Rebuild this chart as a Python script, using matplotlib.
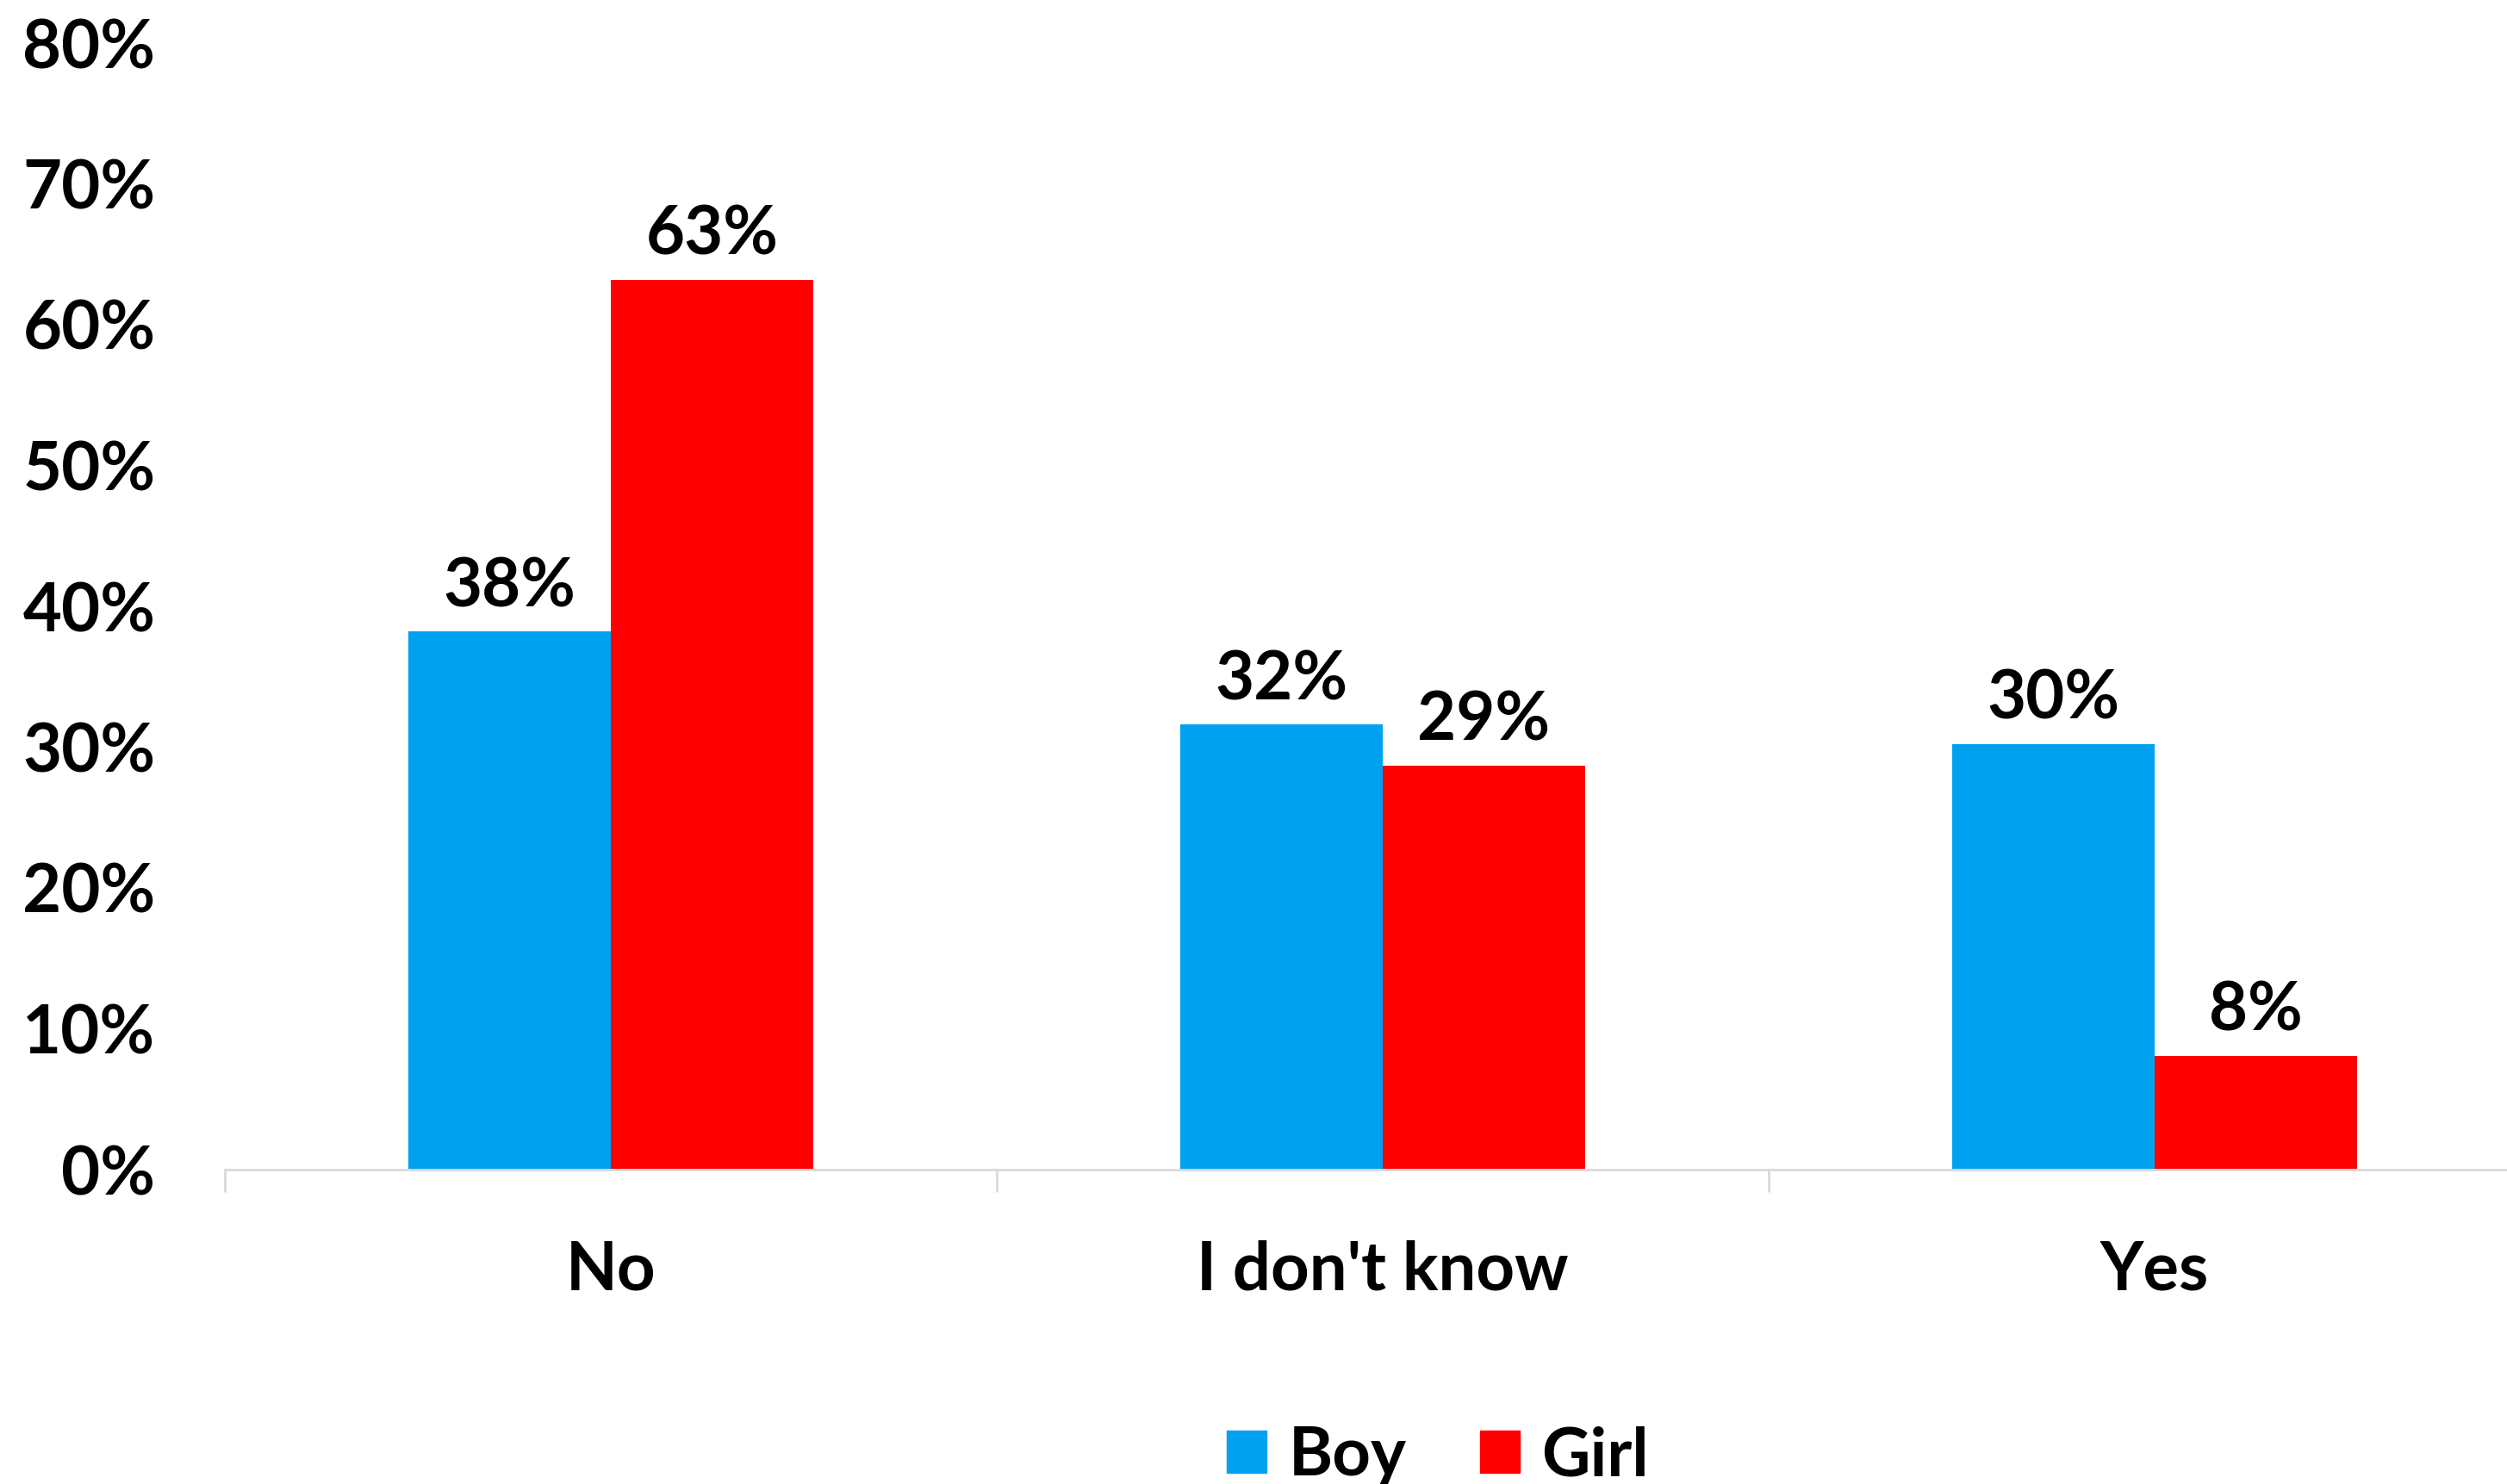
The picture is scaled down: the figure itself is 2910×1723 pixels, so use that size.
import numpy as np
import matplotlib.pyplot as plt
from matplotlib.patches import Patch
from matplotlib.ticker import FixedLocator, PercentFormatter

categories = ['No', "I don't know", 'Yes']
boy = [38.2, 31.6, 30.2]
girl = [63.2, 28.7, 8.1]
boy_labels = ['38%', '32%', '30%']
girl_labels = ['63%', '29%', '8%']

plt.rcParams['font.family'] = ['Lato', 'DejaVu Sans']
plt.rcParams['font.weight'] = 'bold'

blue = '#00A2EF'
red = '#FF0000'
fs = 56

fig = plt.figure(figsize=(29.10, 17.23), dpi=100)
ax = fig.add_axes([261/2910, 365/1723, (2949-261)/2910, (1673-365)/1723])

x = np.arange(len(categories))
w = 0.262
b1 = ax.bar(x - w/2, boy, w, color=blue)
b2 = ax.bar(x + w/2, girl, w, color=red)

for bars, labs in [(b1, boy_labels), (b2, girl_labels)]:
    for r, lab in zip(bars, labs):
        ax.annotate(lab, (r.get_x() + r.get_width()/2, r.get_height()),
                    xytext=(0, 11), textcoords='offset points',
                    ha='center', va='bottom', fontsize=fs, fontweight='bold')

ax.set_xlim(-0.5, 2.5)
ax.set_ylim(0, 80)
ax.set_yticks(np.arange(0, 81, 10))
ax.yaxis.set_major_formatter(PercentFormatter(decimals=0))
ax.tick_params(axis='y', length=0, pad=58, labelsize=fs)

ax.set_xticks(x)
ax.set_xticklabels(categories)
ax.tick_params(axis='x', which='major', length=0, pad=59, labelsize=fs)
ax.xaxis.set_minor_locator(FixedLocator([-0.5, 0.5, 1.5, 2.5]))
ax.tick_params(axis='x', which='minor', length=19, width=2, color='#D9D9D9')

for s in ['top', 'right', 'left']:
    ax.spines[s].set_visible(False)
ax.spines['bottom'].set_color('#D9D9D9')
ax.spines['bottom'].set_linewidth(2)

handles = [Patch(color=blue, label='Boy'), Patch(color=red, label='Girl')]
fig.legend(handles=handles, loc='center', bbox_to_anchor=(1669/2910, 32/1723),
           ncol=2, frameon=False, fontsize=fs, handlelength=0.59, handleheight=0.59,
           handletextpad=0.33, columnspacing=1.1, borderpad=0, borderaxespad=0)

fig.savefig('out.png', dpi=100)
